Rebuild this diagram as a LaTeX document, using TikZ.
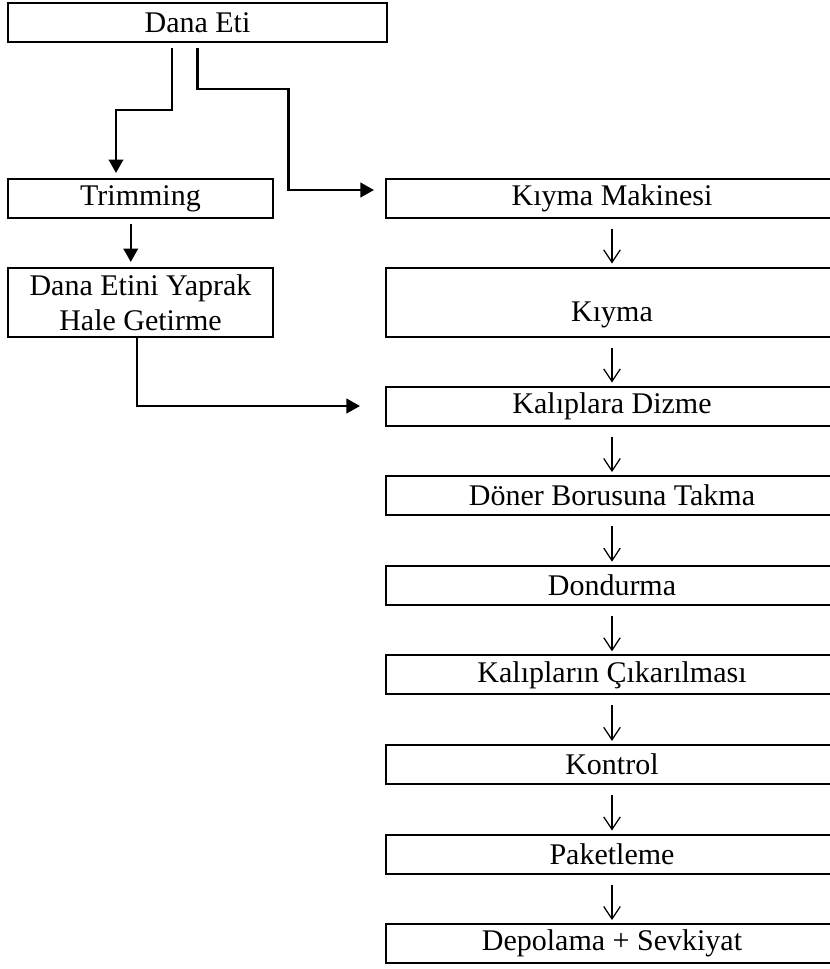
\documentclass[tikz,border=0pt]{standalone}
\usepackage{fontspec}
\setmainfont{Liberation Serif}
\usepackage{tikz}
\usetikzlibrary{shapes,arrows.meta,positioning,calc}

\begin{document}
\begin{tikzpicture}[
    x=0.4pt, y=-0.4pt,
    headbox/.style={rectangle, draw=black, line width=0.8pt, minimum width=151.6pt, minimum height=15.6pt, inner sep=1pt, font=\fontsize{12}{14}\selectfont, text centered},
    sidebox/.style={rectangle, draw=black, line width=0.8pt, minimum width=106pt, minimum height=15.6pt, inner sep=1pt, font=\fontsize{12}{14}\selectfont, align=center},
    stepbox/.style={rectangle, draw=black, line width=0.8pt, minimum width=180.8pt, minimum height=15.6pt, inner sep=1pt, font=\fontsize{12}{14}\selectfont, text centered},
    feed/.style={line width=0.9pt, -{Triangle[length=5.4pt,width=5.8pt]}, shorten <=2pt, shorten >=2pt},
    flow/.style={line width=0.5pt, -{Straight Barb[length=5pt,width=6.6pt]}, shorten <=4pt, shorten >=1.2pt}
]
\useasboundingbox (0,0) rectangle (830,969);

% Raw material
\node (eti) [headbox] at (197.5,22.5) {Dana Eti};

% Left branch
\node (trim) [sidebox] at (140.5,198.5) {Trimming};
\node (yaprak) [sidebox, minimum height=27.6pt, below=19.2pt of trim] {Dana Etini Yaprak\\Hale Getirme};

% Right branch
\node (makine) [stepbox] at (612,198) {Kıyma Makinesi};
\node (kiyma) [stepbox, minimum height=27.6pt, text height=18.6pt, text depth=3pt, below=19.2pt of makine] {Kıyma};
\node (dizme) [stepbox, below=19.2pt of kiyma] {Kalıplara Dizme};
\node (boru) [stepbox, below=19.44pt of dizme] {Döner Borusuna Takma};
\node (dondurma) [stepbox, below=19.44pt of boru] {Dondurma};
\node (kalip) [stepbox, below=19.44pt of dondurma] {Kalıpların Çıkarılması};
\node (kontrol) [stepbox, below=19.44pt of kalip] {Kontrol};
\node (paket) [stepbox, below=19.44pt of kontrol] {Paketleme};
\node (depo) [stepbox, below=19.44pt of paket] {Depolama + Sevkiyat};

% Split from the raw material
\draw[feed] ([xshift=-10.2pt]eti.south) -- ++(0,67) -| ([xshift=-9.8pt]trim.north);
\draw[feed, shorten >=4.4pt] (eti.south) -- ++(0,46) -- ++(91,0) |- ([yshift=3.2pt]makine.west);
\draw[feed] ([xshift=-3.9pt]trim.south) -- ([xshift=-3.9pt]yaprak.north);
\draw[feed, shorten <=0pt, shorten >=10pt] ([xshift=-1.4pt]yaprak.south) |- (dizme.west);

% Main line
\draw[flow] (makine) -- (kiyma);
\draw[flow] (kiyma) -- (dizme);
\draw[flow] (dizme) -- (boru);
\draw[flow] (boru) -- (dondurma);
\draw[flow] (dondurma) -- (kalip);
\draw[flow] (kalip) -- (kontrol);
\draw[flow] (kontrol) -- (paket);
\draw[flow] (paket) -- (depo);

\end{tikzpicture}
\end{document}
